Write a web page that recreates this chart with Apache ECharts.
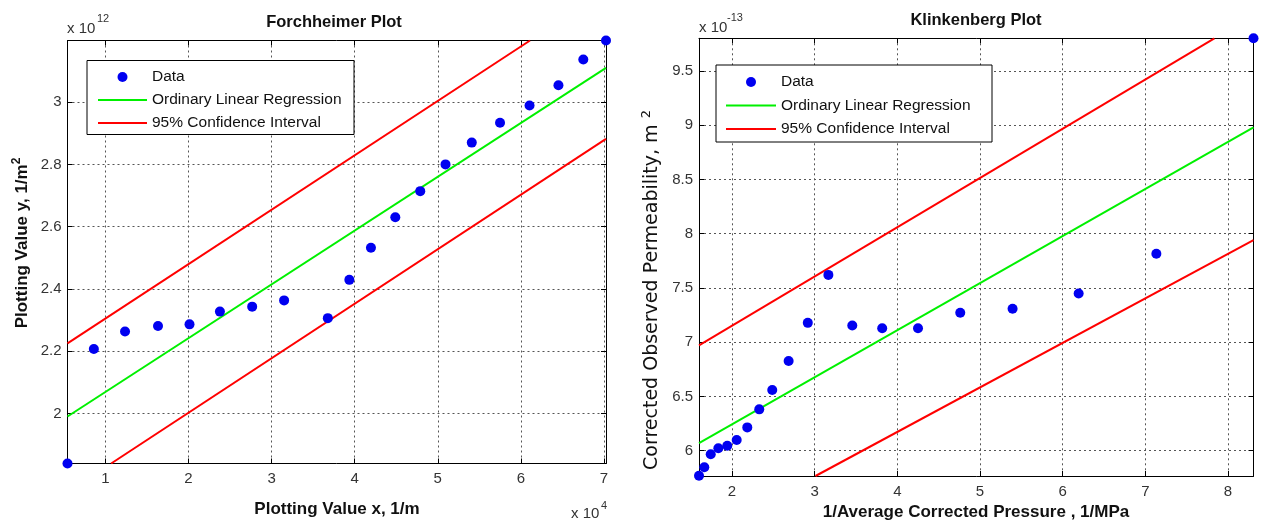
<!DOCTYPE html>
<html>
<head>
<meta charset="utf-8">
<title>Forchheimer and Klinkenberg Plots</title>
<script src="https://cdn.jsdelivr.net/npm/echarts/dist/echarts.min.js"></script>
<style>
  html, body { margin: 0; padding: 0; background: #fff; }
  #chart { width: 1265px; height: 523px; }
</style>
</head>
<body>
<div id="chart"></div>
<script>
// ---- Forchheimer plot (x in 1e4 1/m, y in 1e12 1/m^2) ----
const forchX = [0.545, 0.862, 1.237, 1.634, 2.013, 2.379, 2.767, 3.151, 3.677, 3.936,
                4.196, 4.489, 4.789, 5.093, 5.409, 5.749, 6.104, 6.452, 6.751, 7.024];
const forchY = [1.839, 2.207, 2.263, 2.281, 2.286, 2.327, 2.343, 2.363, 2.306, 2.429,
                2.532, 2.630, 2.714, 2.800, 2.870, 2.934, 2.989, 3.054, 3.137, 3.198];
const forchFitX = [0.545, 7.024];
const forchFitY = [1.99, 3.11];
const forchUpperX = [0.545, 6.11];
const forchUpperY = [2.225, 3.198];
const forchLowerX = [1.07, 7.024];
const forchLowerY = [1.839, 2.882];
const forchXRange = [0.545, 7.024];
const forchYRange = [1.839, 3.198];
const forchXTicks = [1, 2, 3, 4, 5, 6, 7];
const forchYTicks = [2, 2.2, 2.4, 2.6, 2.8, 3];

// ---- Klinkenberg plot (x in 1/MPa, y in 1e-13 m^2) ----
const klinkX = [1.601, 1.665, 1.743, 1.835, 1.943, 2.057, 2.185, 2.330, 2.487, 2.685,
                2.917, 3.166, 3.455, 3.817, 4.250, 4.761, 5.394, 6.193, 7.133, 8.308];
const klinkY = [5.770, 5.847, 5.967, 6.022, 6.046, 6.099, 6.215, 6.381, 6.559, 6.826,
                7.178, 7.620, 7.154, 7.129, 7.129, 7.271, 7.308, 7.449, 7.815, 9.800];
const klinkFitX = [1.601, 8.308];
const klinkFitY = [6.07, 8.98];
const klinkUpperX = [1.601, 7.835];
const klinkUpperY = [6.97, 9.80];
const klinkLowerX = [3.01, 8.308];
const klinkLowerY = [5.767, 7.94];
const klinkXRange = [1.601, 8.308];
const klinkYRange = [5.767, 9.80];
const klinkXTicks = [2, 3, 4, 5, 6, 7, 8];
const klinkYTicks = [6, 6.5, 7, 7.5, 8, 8.5, 9, 9.5];

const FONT = '"Liberation Sans", Arial, Helvetica, sans-serif';
const BLUE = '#0000f0', GREEN = '#00f000', RED = '#ff0000';
// plain horizontal bar used as the legend glyph of the line series
const LINE_ICON = 'path://M0 0H100V4H0Z';

function pairs(xs, ys) { return xs.map((x, i) => [x, ys[i]]); }

function axis(gridIndex, range, ticks, position, withLabels, margin) {
  return {
    type: 'value',
    gridIndex: gridIndex,
    position: position,
    min: range[0],
    max: range[1],
    scale: true,
    axisLine: { show: true, onZero: false, lineStyle: { color: '#000', width: 1 } },
    axisTick: { show: true, inside: true, length: 5, customValues: ticks,
                lineStyle: { color: '#000', width: 1 } },
    axisLabel: { show: withLabels, customValues: ticks, margin: margin,
                 color: '#333', fontSize: 15, fontFamily: FONT },
    splitLine: { show: withLabels, lineStyle: { color: '#555', width: 1, type: [2, 3] } },
    axisPointer: { show: false }
  };
}

function scatterSeries(xi, yi, xs, ys) {
  return {
    type: 'scatter', name: 'Data', xAxisIndex: xi, yAxisIndex: yi,
    data: pairs(xs, ys), symbol: 'circle', symbolSize: 10, clip: false,
    itemStyle: { color: BLUE, opacity: 1 }, z: 4, silent: true
  };
}

function lineSeries(name, xi, yi, xs, ys, color) {
  return {
    type: 'line', name: name, xAxisIndex: xi, yAxisIndex: yi,
    data: pairs(xs, ys), showSymbol: false, symbol: 'none', clip: true,
    lineStyle: { color: color, width: 2 }, itemStyle: { color: color },
    z: 3, silent: true
  };
}

function legendData() {
  return [
    { name: 'Data' },
    { name: 'Ordinary Linear Regression', icon: LINE_ICON },
    { name: '95% Confidence Interval', icon: LINE_ICON }
  ];
}

function text(x, y, str, opts) {
  return Object.assign({
    type: 'text', x: x, y: y, z: 20, silent: true,
    style: Object.assign({
      text: str, fill: '#222', fontFamily: FONT, fontSize: 15,
      align: 'left', textAlign: 'left', verticalAlign: 'middle', textVerticalAlign: 'middle'
    }, opts && opts.style)
  }, opts && opts.el);
}

function centered(x, y, str, style, el) {
  return text(x, y, str, { style: Object.assign({ align: 'center', textAlign: 'center' }, style), el: el });
}

const chart = echarts.init(document.getElementById('chart'), null, { renderer: 'canvas' });

chart.setOption({
  animation: false,
  backgroundColor: '#fff',
  grid: [
    { left: 67.5, top: 40.5, width: 538.5, height: 423, containLabel: false },
    { left: 699, top: 38.3, width: 554.5, height: 437.7, containLabel: false }
  ],
  xAxis: [
    axis(0, forchXRange, forchXTicks, 'bottom', true, 8),
    axis(0, forchXRange, forchXTicks, 'top', false, 8),
    axis(1, klinkXRange, klinkXTicks, 'bottom', true, 8),
    axis(1, klinkXRange, klinkXTicks, 'top', false, 8)
  ],
  yAxis: [
    axis(0, forchYRange, forchYTicks, 'left', true, 6),
    axis(0, forchYRange, forchYTicks, 'right', false, 6),
    axis(1, klinkYRange, klinkYTicks, 'left', true, 6),
    axis(1, klinkYRange, klinkYTicks, 'right', false, 6)
  ],
  legend: [
    { data: legendData(), orient: 'vertical', left: 98, top: 69, padding: 0,
      itemGap: 7, itemWidth: 49, itemHeight: 10, selectedMode: false, z: 30,
      itemStyle: { opacity: 1 },
      textStyle: { fontSize: 15.5, lineHeight: 14, color: '#111', fontFamily: FONT } },
    { data: legendData(), orient: 'vertical', left: 726, top: 74, padding: 0,
      itemGap: 7.5, itemWidth: 50, itemHeight: 10, selectedMode: false, z: 30,
      itemStyle: { opacity: 1 },
      textStyle: { fontSize: 15.5, lineHeight: 14, color: '#111', fontFamily: FONT } }
  ],
  series: [
    scatterSeries(0, 0, forchX, forchY),
    lineSeries('Ordinary Linear Regression', 0, 0, forchFitX, forchFitY, GREEN),
    lineSeries('95% Confidence Interval', 0, 0, forchUpperX, forchUpperY, RED),
    lineSeries('95% Confidence Interval', 0, 0, forchLowerX, forchLowerY, RED),

    scatterSeries(2, 2, klinkX, klinkY),
    lineSeries('Ordinary Linear Regression', 2, 2, klinkFitX, klinkFitY, GREEN),
    lineSeries('95% Confidence Interval', 2, 2, klinkUpperX, klinkUpperY, RED),
    lineSeries('95% Confidence Interval', 2, 2, klinkLowerX, klinkLowerY, RED)
  ],
  graphic: { elements: [
    // legend frames
    { type: 'rect', z: 10, silent: true, shape: { x: 87, y: 60.5, width: 267, height: 74 },
      style: { fill: '#fff', stroke: '#000', lineWidth: 1 } },
    { type: 'rect', z: 10, silent: true, shape: { x: 716, y: 65, width: 276, height: 77 },
      style: { fill: '#fff', stroke: '#000', lineWidth: 1 } },

    // titles
    centered(334, 22, 'Forchheimer Plot', { fontSize: 16.5, fontWeight: 'bold', fill: '#111' }),
    centered(976, 20, 'Klinkenberg Plot', { fontSize: 16.5, fontWeight: 'bold', fill: '#111' }),

    // axis names
    centered(337, 509, 'Plotting Value x, 1/m', { fontSize: 17, fontWeight: 'bold', fill: '#111' }),
    centered(976, 512, '1/Average Corrected Pressure , 1/MPa', { fontSize: 17, fontWeight: 'bold', fill: '#111' }),
    centered(0, 0, '{n|Plotting Value y, 1/m}{s|2}', {
      fill: '#111',
      rich: {
        n: { fontSize: 17, fontWeight: 'bold', fontFamily: FONT, lineHeight: 22, fill: '#111' },
        s: { fontSize: 12, fontWeight: 'bold', fontFamily: FONT, verticalAlign: 'top', lineHeight: 12, fill: '#111' }
      }
    }, { x: 22, y: 243, rotation: Math.PI / 2 }),
    centered(0, 0, '{n|Corrected Observed Permeability, m }{s|2}', {
      fill: '#111',
      rich: {
        n: { fontSize: 19, fontFamily: '"DejaVu Sans", sans-serif', lineHeight: 24, fill: '#111' },
        s: { fontSize: 13, fontFamily: '"DejaVu Sans", sans-serif', verticalAlign: 'top', lineHeight: 13, fill: '#111' }
      }
    }, { x: 652, y: 290, rotation: Math.PI / 2 }),

    // axis exponents
    text(67, 29, 'x 10', { style: { fill: '#333' } }),
    text(97, 19, '12', { style: { fill: '#333', fontSize: 11 } }),
    text(571, 514, 'x 10', { style: { fill: '#333' } }),
    text(601, 506, '4', { style: { fill: '#333', fontSize: 11 } }),
    text(699, 28, 'x 10', { style: { fill: '#333' } }),
    text(727, 18, '-13', { style: { fill: '#333', fontSize: 11 } })
  ] }
});
</script>
</body>
</html>
